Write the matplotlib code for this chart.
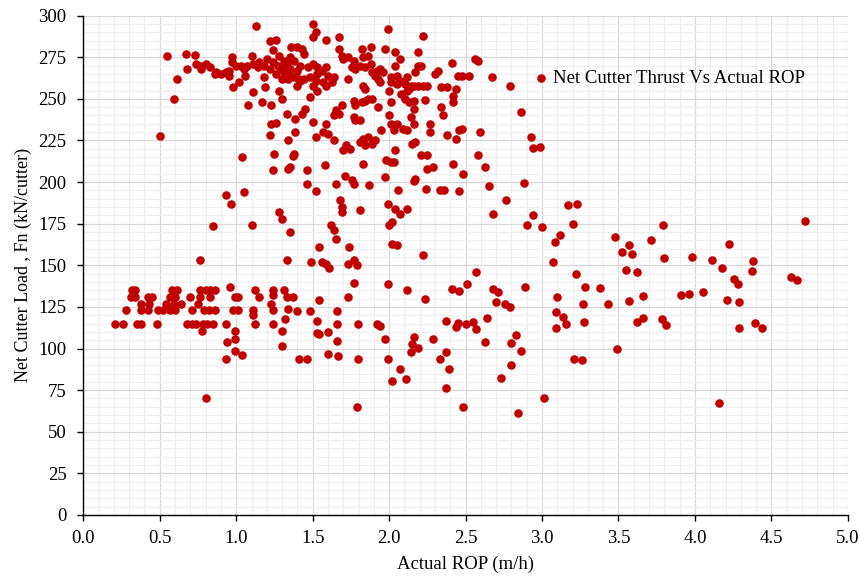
import matplotlib
matplotlib.use("Agg")
import matplotlib.pyplot as plt
from matplotlib.ticker import MultipleLocator

# Actual ROP (m/h) / net cutter load Fn (kN/cutter)
# upper cluster, 200-300 kN
rop_upper = [1.13, 0.55, 0.61, 0.59, 0.50, 0.67, 0.73, 0.68, 0.74, 0.77, 0.83, 0.86, 0.93, 0.95,
             0.97, 0.97, 1.00, 1.06, 1.07, 1.10, 1.11, 1.14, 1.02, 0.98, 1.11, 1.19, 1.18, 1.22,
             1.26, 1.24, 1.20, 1.28, 1.30, 1.08, 1.17, 1.23, 1.33, 1.23, 1.26, 1.22, 1.385, 1.385,
             1.34, 1.24, 1.27, 1.29, 1.31, 1.33, 1.35, 1.28, 1.31, 1.26, 1.30, 1.34, 1.22, 1.18,
             1.15, 0.77, 0.80, 0.87, 0.90, 0.95, 1.03, 1.05,
             1.50, 1.52, 1.50, 1.59, 1.67, 1.99, 2.22, 1.36, 1.40, 1.43, 1.44, 1.35, 1.375, 1.42,
             1.40, 1.35, 1.375, 1.41, 1.44, 1.40, 1.42, 1.47, 1.505, 1.53, 1.56, 1.53, 1.48, 1.52,
             1.50, 1.53, 1.48, 1.57, 1.59, 1.625, 1.60, 1.64, 1.59, 1.67, 1.69, 1.70, 1.73, 1.77,
             1.76, 1.73, 1.78, 1.81, 1.83, 1.82, 1.88, 1.865, 1.88, 1.84, 1.89, 1.91, 1.93, 1.94,
             1.92, 1.94, 1.96, 2.01, 1.97, 2.04, 2.07, 2.04, 2.05, 2.01, 2.00, 2.05, 2.07, 2.105,
             2.13, 2.14, 2.08, 2.115, 2.16, 2.19, 2.22, 2.25, 2.17, 2.19, 2.21, 2.19, 2.115, 2.01,
             2.105, 2.13, 2.16, 2.235, 2.16, 2.30, 2.32, 2.34, 2.38, 2.42, 2.42, 2.34, 2.355, 2.44,
             2.45, 2.475, 2.52, 2.41, 2.56, 2.58,
             1.65, 1.69, 1.67, 1.64, 1.59, 1.57, 1.60, 1.64, 1.505, 1.52, 1.43, 1.45, 1.72, 1.70,
             1.745, 1.81, 1.83, 1.865, 1.84, 1.89, 1.91, 1.77, 1.78, 1.82, 1.84, 1.865, 1.89, 1.93,
             1.77, 1.78, 1.81, 1.83, 1.84, 1.95, 2.00, 2.01, 2.03, 2.05, 2.09, 2.115, 2.14, 2.16,
             2.15, 2.17, 2.04, 2.21, 2.25, 2.27, 2.27, 2.38, 2.44, 2.475, 2.46, 2.595,
             2.67, 2.79, 2.86, 2.93, 2.94, 2.99, 1.04, 1.25, 1.38, 1.37, 1.35, 1.58]
fn_upper = [294, 276, 262, 250, 227.5, 277, 276.5, 268, 271, 270, 269, 265, 266, 264,
            275, 272, 270, 264, 270, 276, 271, 269, 260, 257, 254, 257, 263, 285,
            285.5, 279.5, 274, 255, 250, 246, 248, 246, 241, 235, 235.5, 228.5, 238, 230,
            225, 272, 270, 268, 266, 271, 268, 276, 273, 265, 262, 262, 268, 270,
            272, 268, 271, 266, 265, 267, 270, 268,
            295, 290, 287, 285.5, 287, 292, 287.5, 281, 281, 280, 277, 275, 273, 270,
            267, 264, 263, 262, 262, 258, 261, 269, 271, 269, 267, 265, 263, 261,
            258, 255, 251, 260, 258, 260, 264, 263, 269, 280, 276, 274, 275, 273,
            269, 262, 268, 270, 275, 280, 281, 276, 271, 269, 266, 264, 262, 260,
            267, 268, 266, 263, 280, 278, 274, 270, 264, 260, 255, 259, 261, 259,
            256, 258, 253, 255, 258, 258, 258, 258, 266, 270, 270, 278, 263, 248,
            250, 248, 249, 249.5, 244, 265, 267, 257, 257, 252, 248, 245, 240, 256,
            264, 264, 264, 271.5, 274, 273,
            243, 246, 241, 240, 235, 230, 229, 225, 236, 227, 241, 244, 222, 219,
            220, 224, 226, 227, 222, 223, 225, 249, 246, 248, 249, 250, 250, 245,
            239, 237, 237, 258, 256, 231, 240, 235, 231, 235, 232, 231, 239, 235,
            223, 224, 219, 216, 216, 235, 230, 228, 226, 232, 231, 230,
            263, 258, 242, 227, 220.5, 221, 215, 217, 217, 215.5, 209, 210]

# middle, 140-215 kN
rop_mid = [1.24, 1.34, 1.05, 0.93, 0.965, 1.28, 1.30, 1.35, 0.85, 1.10, 0.76, 1.33,
           1.46, 1.46, 1.52, 1.83, 1.71, 1.76, 1.77, 1.65, 1.87, 1.98, 2.01, 2.03, 1.97, 2.06,
           2.25, 2.29, 2.17, 2.16, 2.24, 2.33, 2.36, 2.42, 2.48, 2.46, 2.58, 2.63, 1.68, 1.69,
           1.69, 1.81, 1.99, 2.04, 2.07, 2.12, 2.02, 2.00, 1.62, 1.64, 1.65, 1.54, 1.74, 2.02,
           2.05, 2.22, 1.49, 1.56, 1.59, 1.61, 1.73, 1.77, 1.79, 2.57,
           2.65, 2.765, 2.88, 2.68, 2.94, 2.90, 3.00, 3.17, 3.23, 3.20, 3.12, 3.085, 3.07, 3.22,
           3.48, 3.525, 3.57, 3.59, 3.55, 3.62, 3.71, 3.79, 3.795, 3.98, 4.11, 4.175, 4.22, 4.38,
           4.37, 4.255, 4.28, 4.63, 4.67, 4.72]
fn_mid = [207.5, 208, 194, 192, 187, 182, 178, 170, 173.5, 174, 153, 153,
          207.5, 199, 194.5, 211, 203.5, 201, 199, 199, 198, 213, 212, 212, 203, 195.5,
          208, 209, 202, 200.5, 196, 195.5, 195.5, 211, 205, 194.5, 216, 209, 189.5, 185,
          182, 183, 187, 184, 181, 184, 176, 174, 174, 171, 166, 161, 161, 163,
          162, 156, 152, 152, 150.5, 148.5, 150.5, 153, 150, 146,
          197.5, 189, 199.5, 181, 180, 174, 173, 186, 187, 175, 168, 164, 152, 145,
          167, 158, 162, 157, 147, 146, 165, 174, 154.5, 155, 153, 148.5, 163, 152.5,
          146.5, 141.5, 139, 143, 141, 176.5]

# lower band, below 140 kN
rop_lower = [0.32, 0.34, 0.58, 0.61, 0.76, 0.80, 0.83, 0.86, 1.12, 1.24, 1.31, 0.96,
             0.31, 0.34, 0.42, 0.45, 0.57, 0.60, 0.70, 0.76, 0.83, 0.99, 1.01, 1.15, 1.33, 1.37,
             1.24, 0.38, 0.43, 0.54, 0.59, 0.64, 0.75, 1.23,
             0.28, 0.38, 0.42, 0.49, 0.52, 0.57, 0.60, 0.71, 0.79, 0.82, 0.86, 0.98, 1.01, 1.11,
             1.24, 1.34, 1.11, 1.32,
             0.21, 0.26, 0.35, 0.38, 0.48, 0.68, 0.71, 0.74, 0.78, 0.81, 0.85, 0.93, 1.12, 1.24,
             0.775, 0.99, 0.99, 0.94, 0.99, 1.04, 0.93, 1.30, 1.30, 1.41, 0.80,
             1.77, 1.99, 2.12, 2.41, 2.46, 2.51, 1.54, 1.73, 2.235, 1.40, 1.48, 1.66, 1.53, 1.53,
             1.54, 1.60, 1.66, 1.66, 1.795, 1.92, 1.94, 1.97, 2.16, 2.15, 2.19, 2.14, 2.29, 2.37,
             2.44, 2.45, 2.50, 2.55, 2.57, 2.64, 2.63, 2.37, 2.33, 2.39, 2.37, 1.46, 1.60, 1.665,
             1.795, 1.99, 2.07, 2.02, 2.11, 1.79, 2.48,
             2.89, 2.68, 3.28, 3.38, 2.71, 2.70, 2.76, 2.79, 2.83, 2.80, 2.86, 2.80, 2.73, 3.01,
             2.845, 3.10, 3.09, 3.14, 3.16, 3.09, 3.27, 3.43, 3.275, 3.21, 3.26, 3.49, 3.57, 3.66,
             3.62, 3.66, 3.785, 3.81, 3.91, 3.96, 4.055, 4.21, 4.29, 4.285, 4.39, 4.44, 4.16]
fn_lower = [135, 135, 135, 135, 135, 135, 135, 135, 135, 135, 135, 137,
            131, 131, 131, 131, 131, 131, 131, 131, 131, 131, 131, 131, 131, 131,
            132, 127, 127, 127, 127, 127, 127, 127,
            123, 123, 123, 123, 123, 123, 123, 123, 123, 123, 123, 123, 123, 123,
            123, 124, 120, 118,
            115, 115, 115, 115, 115, 115, 115, 115, 115, 115, 115, 115, 115, 115,
            110.5, 110.5, 105.5, 104, 98.5, 96, 94, 110.5, 101.5, 94, 70,
            139.5, 139, 135, 135.5, 134.5, 138.5, 129, 131, 130, 122.5, 122.5, 122.5, 116.5, 109.5,
            108.5, 110, 114.5, 104.5, 114.5, 115, 113.5, 105.5, 107, 102.5, 100.5, 98, 106, 116.5,
            113, 115.5, 115, 116, 112, 118.5, 104, 98, 94, 87.5, 76.5, 94, 97, 95.5,
            94, 94, 87.5, 80.5, 81.5, 65, 65,
            137, 135.5, 137, 136.5, 134, 128, 127, 125, 108, 103.5, 98.5, 90, 82, 70,
            61, 131, 122, 119, 114.5, 112.5, 127, 127, 116, 94, 93, 100, 128.5, 131.5,
            116, 118.5, 118, 114, 132, 133, 134, 129, 128, 112.5, 115.5, 112.5, 67.5]

rop = rop_upper + rop_mid + rop_lower
fn = fn_upper + fn_mid + fn_lower

plt.rcParams['font.family'] = ['Liberation Serif', 'DejaVu Serif']

fig = plt.figure(figsize=(8.59, 5.78), dpi=100)
ax = fig.add_axes([0.097, 0.109, 0.890, 0.864])

ax.scatter(rop, fn, s=38, color='#C00000', linewidths=0, zorder=3,
           label='Net Cutter Thrust Vs Actual ROP')

ax.set_xlim(0, 5)
ax.set_ylim(0, 300)
ax.xaxis.set_major_locator(MultipleLocator(0.5))
ax.xaxis.set_minor_locator(MultipleLocator(0.1))
ax.yaxis.set_major_locator(MultipleLocator(25))
ax.yaxis.set_minor_locator(MultipleLocator(5))
ax.xaxis.set_major_formatter(lambda v, p: f'{v:.1f}')

ax.grid(which='minor', color='#F0F0F0', linewidth=0.9, zorder=0)
ax.grid(which='major', color='#D9D9D9', linewidth=0.9, zorder=0)
ax.set_axisbelow(True)

for side in ['top', 'right']:
    ax.spines[side].set_visible(False)
for side in ['left', 'bottom']:
    ax.spines[side].set_color('black')
    ax.spines[side].set_linewidth(1.0)

ax.tick_params(which='major', direction='out', length=4, width=1, labelsize=13.5)
ax.tick_params(axis='y', which='major', pad=8)
ax.tick_params(axis='x', which='major', pad=7)
ax.tick_params(which='minor', length=0)

ax.set_xlabel('Actual ROP (m/h)', fontsize=13.5, labelpad=6)
ax.set_ylabel('Net Cutter Load , Fn (kN/cutter)', fontsize=13, labelpad=5)

ax.legend(loc='center left', bbox_to_anchor=(0.577, 0.875), frameon=False,
          fontsize=13.5, handlelength=1.0, handletextpad=0.1, borderaxespad=0,
          markerscale=1.0)

fig.savefig('out.png', dpi=100)
